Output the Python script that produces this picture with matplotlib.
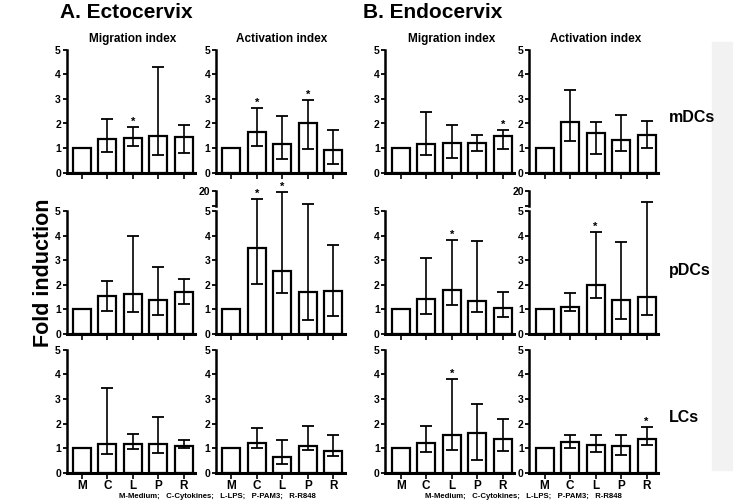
import numpy as np
import matplotlib
matplotlib.use('Agg')
import matplotlib.pyplot as plt
from matplotlib.patches import Rectangle

plt.rcParams['font.family'] = 'Liberation Sans'
plt.rcParams['font.weight'] = 'bold'

groups = ['M', 'C', 'L', 'P', 'R']

# mean, lower end, upper end of error bar, significant (star)
# Ectocervix - migration index
ecto_mig_mdc = [1.0, 1.35, 1.4, 1.5, 1.45]
ecto_mig_mdc_lo = [1.0, 0.85, 1.1, 0.72, 0.82]
ecto_mig_mdc_hi = [1.0, 2.18, 1.85, 4.3, 1.95]
ecto_mig_mdc_star = [0, 0, 1, 0, 0]

ecto_mig_pdc = [1.0, 1.55, 1.62, 1.4, 1.72]
ecto_mig_pdc_lo = [1.0, 0.92, 0.9, 0.78, 1.2]
ecto_mig_pdc_hi = [1.0, 2.15, 3.98, 2.72, 2.22]
ecto_mig_pdc_star = [0, 0, 0, 0, 0]

ecto_mig_lc = [1.0, 1.15, 1.18, 1.16, 1.1]
ecto_mig_lc_lo = [1.0, 0.75, 0.95, 0.8, 1.0]
ecto_mig_lc_hi = [1.0, 3.45, 1.57, 2.25, 1.32]
ecto_mig_lc_star = [0, 0, 0, 0, 0]

# Ectocervix - activation index
ecto_act_mdc = [1.0, 1.65, 1.18, 2.02, 0.92]
ecto_act_mdc_lo = [1.0, 1.08, 0.57, 0.98, 0.35]
ecto_act_mdc_hi = [1.0, 2.62, 2.32, 2.97, 1.75]
ecto_act_mdc_star = [0, 1, 0, 1, 0]

ecto_act_pdc = [1.0, 3.5, 2.55, 1.72, 1.75]
ecto_act_pdc_lo = [1.0, 2.05, 1.65, 0.55, 0.72]
ecto_act_pdc_hi = [1.0, 11.7, 19.0, 6.7, 3.6]
ecto_act_pdc_star = [0, 1, 1, 0, 0]

ecto_act_lc = [1.0, 1.22, 0.65, 1.08, 0.88]
ecto_act_lc_lo = [1.0, 1.02, 0.35, 0.93, 0.68]
ecto_act_lc_hi = [1.0, 1.82, 1.33, 1.88, 1.53]
ecto_act_lc_star = [0, 0, 0, 0, 0]

# Endocervix - migration index
endo_mig_mdc = [1.0, 1.18, 1.2, 1.22, 1.5]
endo_mig_mdc_lo = [1.0, 0.72, 0.6, 0.87, 0.95]
endo_mig_mdc_hi = [1.0, 2.45, 1.95, 1.53, 1.73]
endo_mig_mdc_star = [0, 0, 0, 0, 1]

endo_mig_pdc = [1.0, 1.42, 1.8, 1.35, 1.05]
endo_mig_pdc_lo = [1.0, 0.8, 1.18, 0.88, 0.7]
endo_mig_pdc_hi = [1.0, 3.08, 3.82, 3.78, 1.72]
endo_mig_pdc_star = [0, 0, 1, 0, 0]

endo_mig_lc = [1.0, 1.2, 1.52, 1.6, 1.37]
endo_mig_lc_lo = [1.0, 0.85, 0.92, 0.52, 0.88]
endo_mig_lc_hi = [1.0, 1.9, 3.8, 2.8, 2.2]
endo_mig_lc_star = [0, 0, 1, 0, 0]

# Endocervix - activation index
endo_act_mdc = [1.0, 2.08, 1.62, 1.32, 1.55]
endo_act_mdc_lo = [1.0, 1.3, 0.75, 0.9, 1.0]
endo_act_mdc_hi = [1.0, 3.38, 2.08, 2.35, 2.1]
endo_act_mdc_star = [0, 0, 0, 0, 0]

endo_act_pdc = [1.0, 1.08, 2.0, 1.4, 1.52]
endo_act_pdc_lo = [1.0, 0.95, 1.45, 0.62, 0.78]
endo_act_pdc_hi = [1.0, 1.65, 4.15, 3.72, 8.3]
endo_act_pdc_star = [0, 0, 1, 0, 0]

endo_act_lc = [1.0, 1.23, 1.13, 1.08, 1.35]
endo_act_lc_lo = [1.0, 1.02, 0.83, 0.72, 1.12]
endo_act_lc_hi = [1.0, 1.55, 1.52, 1.52, 1.85]
endo_act_lc_star = [0, 0, 0, 0, 1]

W, H = 733, 504
fig = plt.figure(figsize=(W / 100, H / 100), dpi=100)
fig.patches.append(Rectangle((712 / W, 34 / H), 1, 428 / H, transform=fig.transFigure,
                             color='#f2f2f2', zorder=-1))

# broken axis scale (0-5 linear, then squeezed up to 20)
G = 0.215
S = 0.0407


def fwd(v):
    v = np.asarray(v, dtype=float)
    return np.where(v <= 5, v, 5 + G + (v - 5) * S)


def inv(u):
    u = np.asarray(u, dtype=float)
    return np.where(u <= 5, u, np.where(u < 5 + G, 5, 5 + (u - 5 - G) / S))


unit = 24.6
col_left = [66.5, 216, 385.4, 529.3]
row_base = [172.7, 334, 472.7]
xw = 5.05 * 25.5

panels = [
    [(ecto_mig_mdc, ecto_mig_mdc_lo, ecto_mig_mdc_hi, ecto_mig_mdc_star),
     (ecto_act_mdc, ecto_act_mdc_lo, ecto_act_mdc_hi, ecto_act_mdc_star),
     (endo_mig_mdc, endo_mig_mdc_lo, endo_mig_mdc_hi, endo_mig_mdc_star),
     (endo_act_mdc, endo_act_mdc_lo, endo_act_mdc_hi, endo_act_mdc_star)],
    [(ecto_mig_pdc, ecto_mig_pdc_lo, ecto_mig_pdc_hi, ecto_mig_pdc_star),
     (ecto_act_pdc, ecto_act_pdc_lo, ecto_act_pdc_hi, ecto_act_pdc_star),
     (endo_mig_pdc, endo_mig_pdc_lo, endo_mig_pdc_hi, endo_mig_pdc_star),
     (endo_act_pdc, endo_act_pdc_lo, endo_act_pdc_hi, endo_act_pdc_star)],
    [(ecto_mig_lc, ecto_mig_lc_lo, ecto_mig_lc_hi, ecto_mig_lc_star),
     (ecto_act_lc, ecto_act_lc_lo, ecto_act_lc_hi, ecto_act_lc_star),
     (endo_mig_lc, endo_mig_lc_lo, endo_mig_lc_hi, endo_mig_lc_star),
     (endo_act_lc, endo_act_lc_lo, endo_act_lc_hi, endo_act_lc_star)],
]

x = np.arange(len(groups))
for r in range(3):
    for c in range(4):
        mean, lo, hi, star = panels[r][c]
        mean = np.array(mean)
        broken = max(hi) > 5
        top = 5 + G + 15 * S if broken else 5
        hpx = top * unit
        ax = fig.add_axes([col_left[c] / W, 1 - row_base[r] / H, xw / W, hpx / H])
        if broken:
            ax.set_yscale('function', functions=(fwd, inv))
            ax.set_ylim(0, 20)
            ax.set_yticks([0, 1, 2, 3, 4, 5, 20])
            ax.set_yticks([5.0001], minor=True)
            ax.tick_params(axis='y', which='minor', length=3, width=1.3)
            ax.spines['left'].set_visible(False)
            tr = ax.get_yaxis_transform()
            ax.plot([0, 0], [0, 5], color='black', lw=1.8, transform=tr, clip_on=False)
            ax.plot([0, 0], [5.0001, 20], color='black', lw=1.8, transform=tr, clip_on=False)
        else:
            ax.set_ylim(0, 5)
            ax.set_yticks([0, 1, 2, 3, 4, 5])
        ax.bar(x, mean, width=0.7, color='white', edgecolor='black', linewidth=1.6, zorder=2)
        ax.errorbar(x[1:], mean[1:], yerr=[mean[1:] - np.array(lo[1:]), np.array(hi[1:]) - mean[1:]],
                    fmt='none', ecolor='black', elinewidth=1.2, capsize=4.5, capthick=1.3, zorder=3)
        for i in range(len(groups)):
            if star[i]:
                ax.text(x[i], hi[i], '*', ha='center', va='bottom', fontsize=8, fontweight='bold')
        ax.set_xlim(-0.6, 4.45)
        ax.spines['top'].set_visible(False)
        ax.spines['right'].set_visible(False)
        ax.spines['left'].set_linewidth(1.8)
        ax.spines['bottom'].set_linewidth(2.2)
        ax.set_xticks(x)
        ax.tick_params(axis='y', length=3, width=1.3, pad=1, labelsize=7.5)
        ax.tick_params(axis='x', length=4, width=1.2, pad=1, labelsize=8.5)
        if r == 2:
            ax.set_xticklabels(groups, fontweight='bold')
        else:
            ax.set_xticklabels([])
        for t in ax.get_yticklabels():
            t.set_fontweight('bold')
        ax.set_facecolor('none')

fig.text(60 / W, 1 - 12 / H, 'A. Ectocervix', fontsize=15, fontweight='bold', va='center')
fig.text(363 / W, 1 - 12 / H, 'B. Endocervix', fontsize=15, fontweight='bold', va='center')
col_titles = ['Migration index', 'Activation index', 'Migration index', 'Activation index']
for c in range(4):
    fig.text((col_left[c] + 15 + 2 * 25.5) / W, 1 - 39 / H, col_titles[c],
             fontsize=8.5, fontweight='bold', ha='center', va='center')
row_names = ['mDCs', 'pDCs', 'LCs']
row_y = [117, 271, 417]
for r in range(3):
    fig.text(669 / W, 1 - row_y[r] / H, row_names[r], fontsize=11.5, fontweight='bold', va='center')
fig.text(44 / W, 1 - 273 / H, 'Fold induction', fontsize=15.5, fontweight='bold',
         rotation=90, ha='center', va='center')
legend = 'M-Medium;   C-Cytokines;   L-LPS;   P-PAM3;   R-R848'
fig.text(217 / W, 1 - 496 / H, legend, fontsize=5.6, fontweight='bold', ha='center', va='center')
fig.text(523 / W, 1 - 496 / H, legend, fontsize=5.6, fontweight='bold', ha='center', va='center')

fig.savefig('out.png', dpi=100)
